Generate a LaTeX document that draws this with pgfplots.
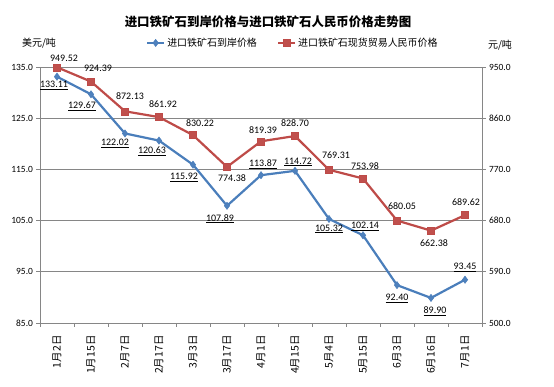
\documentclass[border=0pt]{standalone}
\usepackage{fontspec}
\setmainfont{Carlito}
\newfontfamily\cjk{Noto Sans CJK SC}
\usepackage{pgfplots}
\usepackage{pgfplotstable}
\pgfplotsset{compat=1.18}
\definecolor{bl}{HTML}{4A7EBB}
\definecolor{blf}{HTML}{4F81BD}
\definecolor{rd}{HTML}{BE4B48}
\definecolor{rdf}{HTML}{C0504D}
\definecolor{gr}{HTML}{868686}

\pgfplotstableread{
x y dx dy
0 133.11 -3 -9
1 129.67 -9 -12
2 122.02 -10 -10
3 120.63 -7 -11
4 115.92 -9 -13
5 107.89 -7 -13
6 113.87 2 11
7 114.72 3 9
8 105.32 0 -10
9 102.14 2 9
10 92.40 0 -13
11 89.90 4 -13
12 93.45 0 12
}\bluedata

\pgfplotstableread{
x y dx dy
0 949.52 7 9
1 924.39 7 13
2 872.13 5 15
3 861.92 4 13
4 830.22 7 12
5 774.38 5 -11
6 819.39 2 11
7 828.70 0 13
8 769.31 7 15
9 753.98 2 12
10 680.05 5 14
11 662.38 3 -13
12 689.62 1 13
}\reddata

\begin{document}
\begin{tikzpicture}
\useasboundingbox (-40bp,-64bp) rectangle (514bp,323bp);
\begin{axis}[
  at={(0,0)}, anchor=south west, scale only axis,
  width=442bp, height=256bp,
  xmin=-0.5, xmax=12.5, ymin=85, ymax=135,
  clip=false,
  /pgf/number format/assume math mode=true,
  axis x line*=bottom, axis y line*=left,
  axis line style={gr, line width=0.75bp, -},
  xtick={-0.5,0.5,...,12.5}, xticklabels={},
  extra x ticks={0,1,...,12},
  extra x tick labels={1月2日,1月15日,2月7日,2月17日,3月3日,3月17日,4月1日,4月15日,5月4日,5月15日,6月3日,6月16日,7月1日},
  extra x tick style={major tick length=0pt, xticklabel style={rotate=90, anchor=east, font=\cjk\fontsize{10.5}{12}\selectfont, text=black}},
  xticklabel shift=9bp,
  major tick length=3.5bp,
  tick align=outside,
  tick style={gr, line width=0.75bp},
  ytick={85,95,...,135},
  yticklabel style={/pgf/number format/fixed, /pgf/number format/fixed zerofill, /pgf/number format/precision=1, font=\fontsize{9.5}{11}\selectfont, text=black},
  ymajorgrids, grid style={gr, line width=0.75bp},
  legend style={at={(0.572,1.094)}, anchor=center, draw=none, fill=none,
    legend columns=2, font=\cjk\fontsize{10}{12}\selectfont,
    /tikz/every even column/.append style={column sep=18bp}},
]
\addplot[bl, line width=2.2bp, mark=diamond*, mark size=3.6bp,
  mark options={fill=blf, draw=bl, line width=0.5bp},
  point meta=y,
  visualization depends on={\thisrow{dx} \as \dx},
  visualization depends on={\thisrow{dy} \as \dy},
  nodes near coords={\underline{\pgfmathprintnumber[fixed,fixed zerofill,precision=2,assume math mode=true]{\pgfplotspointmeta}}},
  every node near coord/.append style={anchor=center, xshift=\dx bp, yshift=\dy bp, text=black, inner sep=1bp, font=\fontsize{10}{12}\selectfont},
] table[x=x, y=y] {\bluedata};
\addlegendentry{进口铁矿石到岸价格}
\addlegendimage{rd, line width=2.2bp, mark=square*, mark size=3.5bp, mark options={fill=rdf, draw=rd, line width=0.5bp}}
\addlegendentry{进口铁矿石现货贸易人民币价格}
\end{axis}
\begin{axis}[
  at={(0,0)}, anchor=south west, scale only axis,
  width=442bp, height=256bp,
  xmin=-0.5, xmax=12.5, ymin=500, ymax=950,
  clip=false,
  /pgf/number format/assume math mode=true,
  hide x axis, axis y line*=right,
  axis line style={gr, line width=0.75bp, -},
  major tick length=3.5bp,
  tick align=outside,
  tick style={gr, line width=0.75bp},
  ytick={500,590,680,770,860,950},
  yticklabel style={/pgf/number format/fixed, /pgf/number format/fixed zerofill, /pgf/number format/precision=1, /pgf/number format/1000 sep={}, font=\fontsize{9.5}{11}\selectfont, text=black},
]
\addplot[rd, line width=2.2bp, mark=square*, mark size=3.5bp,
  mark options={fill=rdf, draw=rd, line width=0.5bp},
  point meta=y,
  visualization depends on={\thisrow{dx} \as \dx},
  visualization depends on={\thisrow{dy} \as \dy},
  nodes near coords={\pgfmathprintnumber[fixed,fixed zerofill,precision=2,assume math mode=true]{\pgfplotspointmeta}},
  every node near coord/.append style={anchor=center, xshift=\dx bp, yshift=\dy bp, text=black, inner sep=1bp, font=\fontsize{10}{12}\selectfont},
] table[x=x, y=y] {\reddata};
\end{axis}
\node[font=\cjk\bfseries\fontsize{12.5}{14}\selectfont] at (228bp,301bp) {进口铁矿石到岸价格与进口铁矿石人民币价格走势图};
\node[font=\cjk\fontsize{10}{12}\selectfont] at (-1bp,280bp) {美元/吨};
\node[font=\cjk\fontsize{10}{12}\selectfont] at (460bp,278bp) {元/吨};
\end{tikzpicture}
\end{document}
